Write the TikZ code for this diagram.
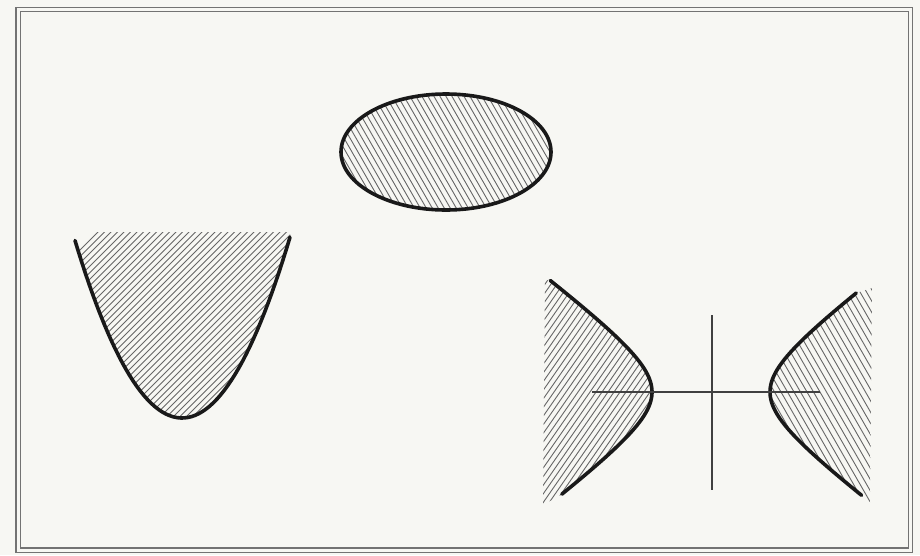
\documentclass[tikz,border=0pt]{standalone}
\begin{document}
\begin{tikzpicture}[x=1pt,y=-1pt,
  hatch/.style={line width=0.9pt,draw=black!60},
  curve/.style={line width=3.6pt,draw=black!90,line cap=round},
  axis/.style={line width=1.3pt,draw=black!75}]
\fill[fill={rgb,255:red,247;green,247;blue,243}] (0,0) rectangle (920,555);
\useasboundingbox (0,0) rectangle (920,555);
% frame
\draw[draw=black!55,line width=1.3pt,double={rgb,255:red,247;green,247;blue,243},double distance=3pt] (18,9.5) rectangle (910.5,550);
% ellipse
\begin{scope}
\clip (446,152) ellipse [x radius=106,y radius=59];
\foreach \x in {250,256,...,660} \draw[hatch] (\x-80,152-139) -- (\x+80,152+139);
\end{scope}
\draw[curve] (446,152) ellipse [x radius=105,y radius=58];
% parabola
\begin{scope}
\clip plot[domain=75:290,samples=60] (\x,{418-0.0155*(\x-182)^2}) -- (290,232) -- (75,232) -- cycle;
\foreach \x in {0,6.5,...,420} \draw[hatch] (\x-130,330+130) -- (\x+130,330-130);
\end{scope}
\draw[curve] plot[domain=75:290,samples=60] (\x,{418-0.0155*(\x-182)^2});
% hyperbola left
\begin{scope}
\clip plot[domain=-1.66:1.58,samples=60,variable=\t] ({711-59*cosh(\t)},{392+44*sinh(\t)}) -- (543,505) -- (545,280) -- cycle;
\foreach \x in {440,446,...,720} \draw[hatch] (\x-0.57*150,392+0.82*150) -- (\x+0.57*150,392-0.82*150);
\end{scope}
\draw[curve] plot[domain=-1.66:1.58,samples=60,variable=\t] ({711-59*cosh(\t)},{392+44*sinh(\t)});
% hyperbola right
\begin{scope}
\clip plot[domain=-1.55:1.59,samples=60,variable=\t] ({711+59*cosh(\t)},{392+44*sinh(\t)}) -- (870,502) -- (872,288) -- cycle;
\foreach \x in {690,696.5,...,960} \draw[hatch] (\x-0.5*150,392-0.87*150) -- (\x+0.5*150,392+0.87*150);
\end{scope}
\draw[curve] plot[domain=-1.55:1.59,samples=60,variable=\t] ({711+59*cosh(\t)},{392+44*sinh(\t)});
% axes
\coordinate (hl) at (592,392); \coordinate (hr) at (820,392);
\coordinate (vt) at (712,315); \coordinate (vb) at (712,490);
\draw[axis] (hl) -- (hr);
\draw[axis] (vt) -- (vb);
\end{tikzpicture}
\end{document}
